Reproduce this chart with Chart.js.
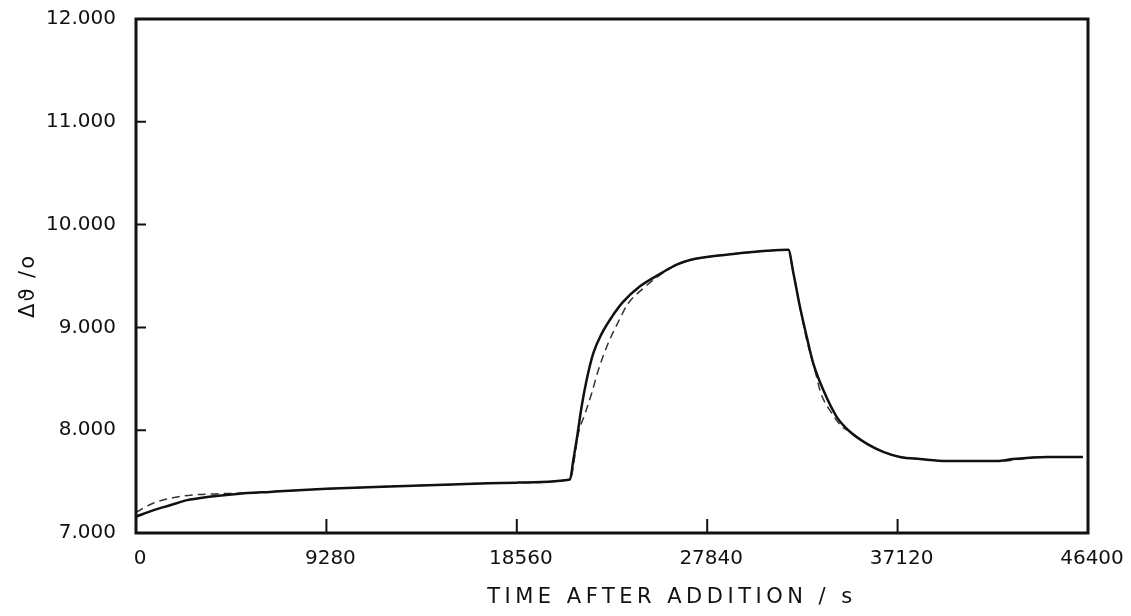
<!DOCTYPE html>
<html>
<head>
<meta charset="utf-8">
<script src="https://cdn.jsdelivr.net/npm/chart.js@4/dist/chart.umd.min.js"></script>
<style>
  body { margin: 0; background: #fff; }
  canvas { display: block; }
</style>
</head>
<body>
<canvas id="chart" width="1131" height="616"></canvas>
<script>
// time after addition (s) and angle change
const solidTimes = [0, 830, 1660, 2490, 3460, 4920, 6530, 9280, 12000, 15000, 18560, 21150,
  21315, 21480, 21720, 21965, 22290, 22700, 23185, 23750, 24565, 25540, 26350, 27000,
  28000, 29100, 30750, 31790,
  32040, 32360, 32690, 33010, 33500, 34150, 34800, 35610, 36420, 37240,
  38210, 39530, 41960, 42750, 44400, 46150];
const solidValues = [7.16, 7.22, 7.27, 7.32, 7.35, 7.38, 7.40, 7.43, 7.45, 7.47, 7.49, 7.52,
  7.71, 7.91, 8.23, 8.49, 8.75, 8.94, 9.10, 9.25, 9.40, 9.52, 9.61, 9.656,
  9.69, 9.715, 9.745, 9.755,
  9.53, 9.20, 8.91, 8.65, 8.39, 8.13, 7.985, 7.87, 7.79, 7.74,
  7.72, 7.70, 7.70, 7.72, 7.74, 7.74];

const dashedTimes = [0, 830, 2000, 2780, 3800, 5500, 9280, 15000, 18560, 21150,
  21560, 21885, 22210, 22535, 22940, 23510, 23995, 24725, 25540, 26350, 27000,
  28000, 29100, 30750, 31790,
  32040, 32360, 32690, 33090, 33380, 33860, 34430, 34800, 35610, 36420, 37240,
  38210, 39530, 41960, 44400, 46150];
const dashedValues = [7.20, 7.29, 7.35, 7.37, 7.38, 7.39, 7.43, 7.47, 7.49, 7.52,
  7.97, 8.16, 8.36, 8.585, 8.81, 9.055, 9.235, 9.38, 9.51, 9.607, 9.656,
  9.69, 9.715, 9.745, 9.755,
  9.53, 9.20, 8.88, 8.585, 8.36, 8.18, 8.03, 7.985, 7.87, 7.79, 7.74,
  7.72, 7.70, 7.70, 7.74, 7.74];

const xTicks = [0, 9280, 18560, 27840, 37120, 46400];
const yTicks = [7, 8, 9, 10, 11, 12];

const xTitle = 'TIME AFTER ADDITION / s';
const yTitle = 'Δϑ /o';

const ink = '#111';
const font = '"DejaVu Sans", sans-serif';

function toPoints(xs, ys) {
  return xs.map((x, i) => ({ x: x, y: ys[i] }));
}

// frame, inward ticks and axis titles
const framePlugin = {
  id: 'frame',
  afterDraw(chart) {
    const ctx = chart.ctx;
    const a = chart.chartArea;
    const xs = chart.scales.x;
    const ys = chart.scales.y;
    ctx.save();
    ctx.strokeStyle = ink;
    ctx.lineWidth = 3;
    ctx.strokeRect(a.left, a.top, a.right - a.left, a.bottom - a.top);
    ctx.lineWidth = 2;
    ctx.beginPath();
    xTicks.forEach(t => {
      const px = xs.getPixelForValue(t);
      ctx.moveTo(px, a.bottom);
      ctx.lineTo(px, a.bottom - 14);
    });
    yTicks.forEach(t => {
      const py = ys.getPixelForValue(t);
      ctx.moveTo(a.left, py);
      ctx.lineTo(a.left + 10, py);
    });
    ctx.stroke();

    ctx.fillStyle = ink;
    ctx.font = '21px ' + font;
    ctx.letterSpacing = '4.5px';
    ctx.textAlign = 'center';
    ctx.textBaseline = 'middle';
    ctx.fillText(xTitle, 672, 598);

    ctx.translate(29, 286);
    ctx.rotate(-Math.PI / 2);
    ctx.letterSpacing = '2px';
    ctx.fillText(yTitle, 0, 0);
    ctx.restore();
  }
};

new Chart(document.getElementById('chart'), {
  type: 'scatter',
  data: {
    datasets: [
      {
        label: 'measured',
        data: toPoints(solidTimes, solidValues),
        showLine: true,
        borderColor: ink,
        borderWidth: 2.5,
        pointRadius: 0,
        cubicInterpolationMode: 'monotone'
      },
      {
        label: 'fit',
        data: toPoints(dashedTimes, dashedValues),
        showLine: true,
        borderColor: '#333',
        borderWidth: 1.5,
        borderDash: [8, 5],
        pointRadius: 0,
        cubicInterpolationMode: 'monotone'
      }
    ]
  },
  options: {
    responsive: false,
    animation: false,
    layout: { padding: { top: 19, right: 43, left: 0, bottom: 0 } },
    plugins: {
      legend: { display: false },
      tooltip: { enabled: false }
    },
    scales: {
      x: {
        type: 'linear',
        min: 0,
        max: 46400,
        grid: { display: false },
        border: { display: false },
        afterBuildTicks(scale) { scale.ticks = xTicks.map(v => ({ value: v })); },
        afterFit(scale) {
          scale.height = 83;
          scale.paddingLeft = 0;
          scale.paddingRight = 0;
        },
        ticks: {
          color: ink,
          padding: 6,
          labelOffset: 4,
          maxRotation: 0,
          font: { family: font, size: 20 },
          callback: v => String(v)
        }
      },
      y: {
        type: 'linear',
        min: 7,
        max: 12,
        grid: { display: false },
        border: { display: false },
        afterBuildTicks(scale) { scale.ticks = yTicks.map(v => ({ value: v })); },
        afterFit(scale) {
          scale.width = 136;
          scale.paddingTop = 0;
          scale.paddingBottom = 0;
        },
        ticks: {
          color: ink,
          padding: 12,
          font: { family: font, size: 20 },
          callback: v => v.toFixed(3)
        }
      }
    }
  },
  plugins: [framePlugin]
});
</script>
</body>
</html>
